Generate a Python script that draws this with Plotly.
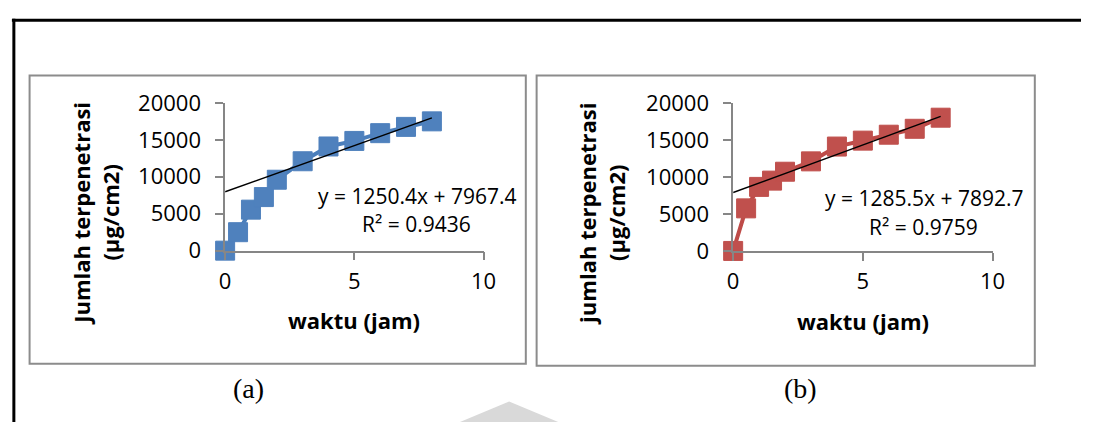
import plotly.graph_objects as go

# ---- data ----
time_a = [0, 0.5, 1, 1.5, 2, 3, 4, 5, 6, 7, 8]
penetration_a = [0, 2500, 5550, 7250, 9600, 12100, 14100, 14850, 15900, 16750, 17500]
time_b = [0, 0.5, 1, 1.5, 2, 3, 4, 5, 6, 7, 8]
penetration_b = [0, 5750, 8650, 9500, 10700, 12100, 14100, 14900, 15700, 16500, 18000]
slope_a, intercept_a, r2_a = 1250.4, 7967.4, 0.9436
slope_b, intercept_b, r2_b = 1285.5, 7892.7, 0.9759
x_ticks = [0, 5, 10]
x_tick_labels = ["0", "5", "10"]
y_ticks = [0, 5000, 10000, 15000, 20000]
y_tick_labels = ["0", "5000", "10000", "15000", "20000"]

W, H = 1094, 436
def px(x): return x / W
def py(y): return 1 - y / H

FONT = "Open Sans"
BLUE, BLUE_L = "#4F81BD", "#4A7EBB"
RED, RED_L = "#C0504D", "#BE4B48"
AXC = "#868686"

fig = go.Figure()

def add_panel(t, v, slope, icpt, mcol, lcol, xa, ya):
    fig.add_trace(go.Scatter(x=t, y=v, mode="lines+markers", xaxis=xa, yaxis=ya,
                             line=dict(color=lcol, width=4),
                             marker=dict(symbol="square", size=19, color=mcol,
                                         line=dict(color=mcol, width=1)),
                             cliponaxis=False, showlegend=False, hoverinfo="skip"))
    xs = [min(t), max(t)]
    fig.add_trace(go.Scatter(x=xs, y=[slope * x + icpt for x in xs], mode="lines",
                             xaxis=xa, yaxis=ya, line=dict(color="black", width=1.5),
                             cliponaxis=False, showlegend=False, hoverinfo="skip"))

add_panel(time_a, penetration_a, slope_a, intercept_a, BLUE, BLUE_L, "x", "y")
add_panel(time_b, penetration_b, slope_b, intercept_b, RED, RED_L, "x2", "y2")

def xaxis_cfg(d0, d1, anchor):
    return dict(domain=[px(d0), px(d1)], range=[0, 10], tickvals=x_ticks, ticktext=x_tick_labels,
                anchor=anchor, showline=True, linecolor=AXC, linewidth=1.5, ticks="outside",
                ticklen=8, tickcolor=AXC, tickwidth=1.5, showgrid=False, zeroline=False,
                tickfont=dict(family=FONT, size=22, color="black"), ticklabelstandoff=2)

def yaxis_cfg(d0, d1, anchor):
    return dict(domain=[py(d0), py(d1)], range=[0, 20000], tickvals=y_ticks, ticktext=y_tick_labels,
                anchor=anchor, showline=True, linecolor=AXC, linewidth=1.5, ticks="outside",
                ticklen=8, tickcolor=AXC, tickwidth=1.5, showgrid=False, zeroline=False,
                tickfont=dict(family=FONT, size=22, color="black"), ticklabelstandoff=10)

shapes = [
    # page frame lines
    dict(type="line", xref="paper", yref="paper", x0=px(6), x1=1, y0=py(4.5), y1=py(4.5),
         line=dict(color="black", width=3)),
    dict(type="line", xref="paper", yref="paper", x0=px(8), x1=px(8), y0=py(3), y1=0,
         line=dict(color="black", width=3)),
    # chart boxes
    dict(type="rect", xref="paper", yref="paper", x0=px(24), x1=px(529), y0=py(64), y1=py(373.5),
         line=dict(color="#8C8C8C", width=2)),
    dict(type="rect", xref="paper", yref="paper", x0=px(540), x1=px(1047), y0=py(64), y1=py(375.5),
         line=dict(color="#8C8C8C", width=2)),
    # faint watermark
    dict(type="path", xref="paper", yref="paper",
         path=f"M {px(462)},{py(436)} L {px(512)},{py(414)} L {px(562)},{py(436)} Z",
         fillcolor="#D9D9D9", line=dict(width=0)),
]

annotations = []
def txt(x, y, s, size=21, angle=0, family=FONT):
    annotations.append(dict(xref="paper", yref="paper", x=px(x), y=py(y), text=s,
                            showarrow=False, textangle=angle, xanchor="center", yanchor="middle",
                            font=dict(family=family, size=size, color="black"),
                            align="center"))

# axis titles
txt(91, 212, "<b>Jumlah terpenetrasi<br>(µg/cm2)</b>", size=22, angle=-90)
txt(606, 212, "<b>jumlah terpenetrasi<br>(µg/cm2)</b>", size=22, angle=-90)
txt(354, 326, "<b>waktu (jam)</b>", size=22)
txt(872, 327, "<b>waktu (jam)</b>", size=22)
# trendline equations
txt(418, 193.5, f"y = {slope_a}x + {intercept_a}")
txt(418, 223.5, f"R² = {r2_a}")
txt(934, 195.5, f"y = {slope_b}x + {intercept_b}")
txt(934, 226.5, f"R² = {r2_b}")
# captions
txt(247, 400, "(a)", size=28, family="Liberation Serif")
txt(809, 400, "(b)", size=28, family="Liberation Serif")

fig.update_layout(
    width=W, height=H, autosize=False,
    margin=dict(l=0, r=0, t=0, b=0),
    paper_bgcolor="white", plot_bgcolor="rgba(0,0,0,0)",
    xaxis=xaxis_cfg(223, 486, "y"), yaxis=yaxis_cfg(252, 93.3, "x"),
    xaxis2=xaxis_cfg(740, 1004, "y2"), yaxis2=yaxis_cfg(252.3, 93.3, "x2"),
    shapes=shapes, annotations=annotations,
)

fig.write_html("out.html")
